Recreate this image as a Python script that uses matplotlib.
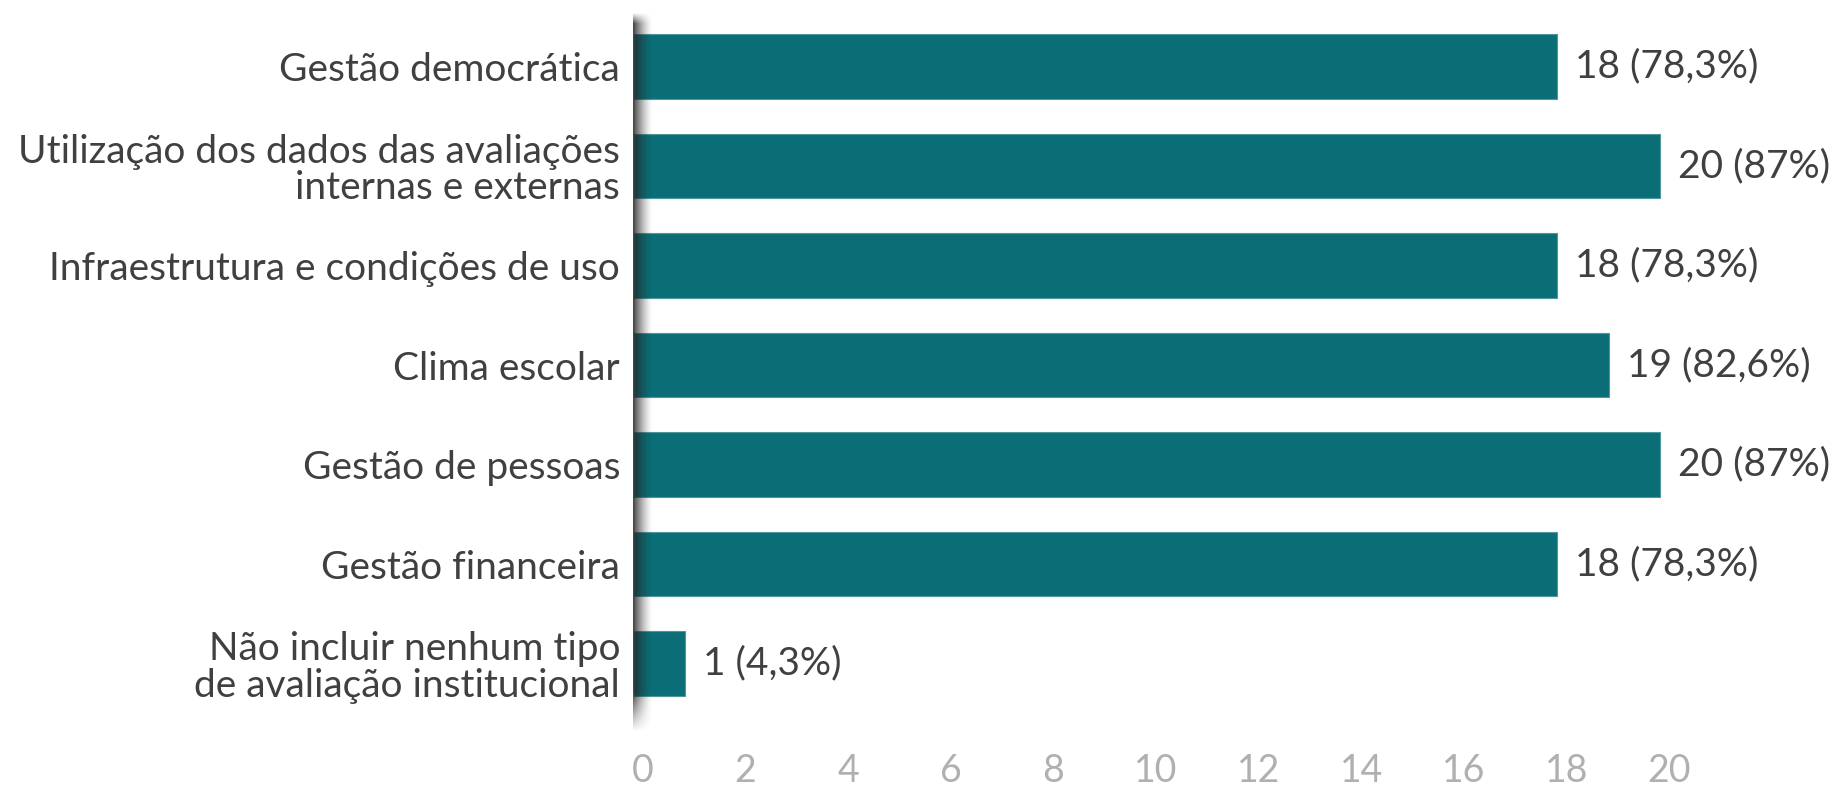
import numpy as np
import matplotlib
matplotlib.use("Agg")
import matplotlib.pyplot as plt
import matplotlib.transforms as mtransforms

plt.rcParams['font.family'] = ['Lato', 'DejaVu Sans']

categories = [
    "Gestão democrática",
    "Utilização dos dados das avaliações\ninternas e externas",
    "Infraestrutura e condições de uso",
    "Clima escolar",
    "Gestão de pessoas",
    "Gestão financeira",
    "Não incluir nenhum tipo\nde avaliação institucional",
]
values = [18, 20, 18, 19, 20, 18, 1]
percent_labels = ["78,3%", "87%", "78,3%", "82,6%", "87%", "78,3%", "4,3%"]
xticks = [0, 2, 4, 6, 8, 10, 12, 14, 16, 18, 20]

W, H = 1845, 787
fig = plt.figure(figsize=(W / 100, H / 100), dpi=100)
fig.patch.set_facecolor('white')

ax_left, ax_top, ax_bottom = 634, 12, 725
px_per_unit = 51.3
xmax = 22
ax = fig.add_axes([ax_left / W, (H - ax_bottom) / H,
                   xmax * px_per_unit / W, (ax_bottom - ax_top) / H])

bar_color = '#0B6E77'
y = np.arange(len(categories))
ax.barh(y, values, height=0.65, color=bar_color, edgecolor='#4f979d',
        linewidth=0.8, zorder=2)

ax.set_xlim(0, xmax)
ax.set_ylim(6.618, -0.548)

text_color = '#404040'
fs = 28
ax.set_yticks(y)
ax.set_yticklabels(categories, fontsize=fs, color=text_color,
                   linespacing=1.03)
ax.tick_params(axis='y', length=0, pad=10)

ax.set_xticks(xticks)
ax.set_xticklabels([str(t) for t in xticks], fontsize=27, color='#b0b0b0')
ax.tick_params(axis='x', length=0, pad=20)
offset = mtransforms.ScaledTranslation(9 / 100, 0, fig.dpi_scale_trans)
for lab in ax.get_xticklabels():
    lab.set_transform(lab.get_transform() + offset)

for s in ['top', 'right', 'bottom', 'left']:
    ax.spines[s].set_visible(False)

for yi, v, p in zip(y, values, percent_labels):
    ax.annotate(f"{v} ({p})", xy=(v, yi), xytext=(13, 0),
                textcoords='offset points', va='center', ha='left',
                fontsize=fs, color=text_color, clip_on=False)

# left axis line with soft shadow
sh_w, sh_top, sh_bot = 20, 12, 732
sax = fig.add_axes([(ax_left - 1) / W, (H - sh_bot) / H, sh_w / W, (sh_bot - sh_top) / H])
nx, ny = 60, 400
xs = np.linspace(0, 1, nx)
ys = np.linspace(0, 1, ny)
ax_prof = 0.88 * (1 - xs) ** 1.5
top_ramp = np.clip(ys / 0.015, 0, 1)
bot_ramp = np.clip((1 - ys) / 0.055, 0, 1)
vprof = top_ramp * bot_ramp
img = np.zeros((ny, nx, 4))
img[..., 0:3] = 0.15
img[..., 3] = vprof[:, None] * ax_prof[None, :]
sax.imshow(img, aspect='auto', extent=(0, 1, 1, 0), interpolation='bilinear')
sax.set_xlim(0, 1)
sax.set_ylim(1, 0)
sax.axis('off')
sax.patch.set_alpha(0)
sax.set_zorder(5)

fig.savefig('out.png', dpi=100)
